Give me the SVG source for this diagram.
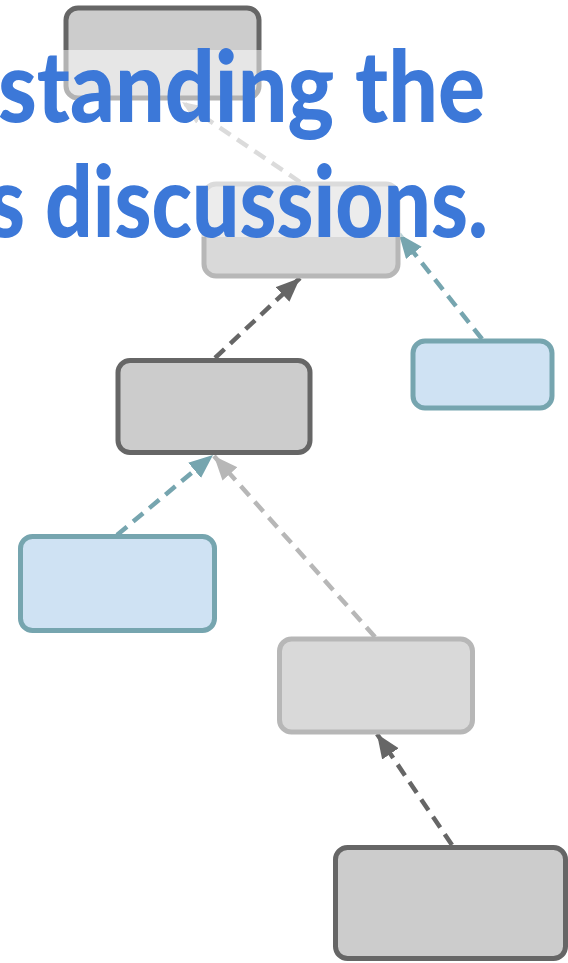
<svg xmlns="http://www.w3.org/2000/svg" width="568" height="963" viewBox="0 0 568 963">
<style>
.dark rect{fill:#cccccc;stroke:#666666;stroke-width:5}
.light rect{fill:#d9d9d9;stroke:#b7b7b7;stroke-width:5}
.blue rect{fill:#cfe2f3;stroke:#76a5af;stroke-width:5}
.c{fill:none;stroke-width:4.5;stroke-dasharray:13 8}
.cd{stroke:#666666}
.cl{stroke:#b7b7b7}
.cb{stroke:#76a5af}
.title{font-family:Lato,"Liberation Sans",sans-serif;font-weight:900;font-size:100px;fill:#3c78d8}
</style>
<defs>
<marker id="ad" markerUnits="userSpaceOnUse" markerWidth="26" markerHeight="22" refX="24" refY="10" orient="auto"><path d="M0,0 L24,10 L0,20 z" fill="#666666"/></marker>
<marker id="al" markerUnits="userSpaceOnUse" markerWidth="26" markerHeight="22" refX="24" refY="10" orient="auto"><path d="M0,0 L24,10 L0,20 z" fill="#b7b7b7"/></marker>
<marker id="ab" markerUnits="userSpaceOnUse" markerWidth="26" markerHeight="22" refX="24" refY="10" orient="auto"><path d="M0,0 L24,10 L0,20 z" fill="#76a5af"/></marker>
</defs>
<g id="connectors">
<line class="c cl" x1="300" y1="182" x2="182" y2="102" marker-end="url(#al)"/>
<line class="c cd" x1="215" y1="358" x2="300" y2="278" marker-end="url(#ad)"/>
<line class="c cb" x1="482" y1="339" x2="399" y2="234" marker-end="url(#ab)"/>
<line class="c cb" x1="117" y1="535" x2="213" y2="455" marker-end="url(#ab)"/>
<line class="c cl" x1="375" y1="637" x2="214" y2="456" marker-end="url(#al)"/>
<line class="c cd" x1="452" y1="845" x2="377" y2="734" marker-end="url(#ad)"/>
</g>
<g id="nodeA" class="dark"><rect x="66" y="8" width="193" height="90" rx="12"/></g>
<g id="nodeB" class="light"><rect x="204" y="184" width="194" height="92" rx="12"/></g>
<g id="nodeC" class="blue"><rect x="413" y="341" width="139" height="67" rx="12"/></g>
<g id="nodeD" class="dark"><rect x="118" y="360.5" width="192" height="92" rx="12"/></g>
<g id="nodeE" class="blue"><rect x="20.5" y="536.5" width="194" height="94" rx="12"/></g>
<g id="nodeF" class="light"><rect x="279.5" y="639" width="193" height="93" rx="12"/></g>
<g id="nodeG" class="dark"><rect x="335.5" y="847.5" width="230" height="111" rx="12"/></g>
<rect id="band" x="0" y="50" width="568" height="187" fill="#ffffff" fill-opacity="0.5"/>
<g id="title" class="title">
<text x="-2" y="122" textLength="487" lengthAdjust="spacingAndGlyphs">standing the</text>
<text x="-12" y="237" textLength="500" lengthAdjust="spacingAndGlyphs">s discussions.</text>
</g>
</svg>
